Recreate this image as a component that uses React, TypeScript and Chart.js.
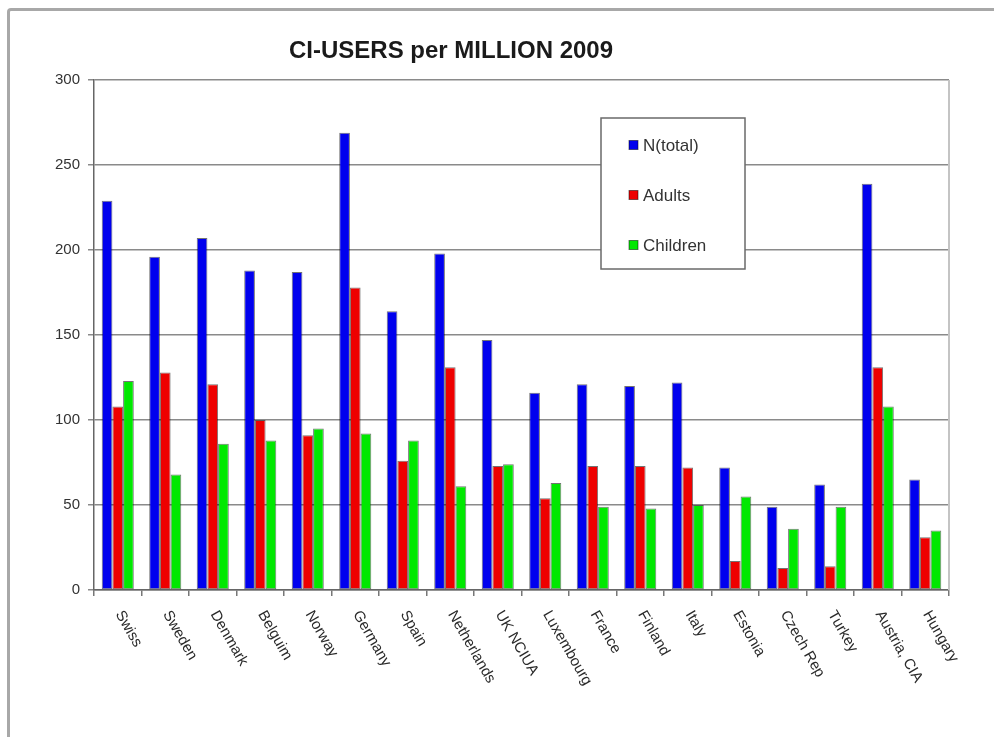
import React, { useEffect, useRef } from "react";
import { Chart, registerables } from "chart.js";

Chart.register(...registerables);

const categories = [
  "Swiss", "Sweden", "Denmark", "Belguim", "Norway", "Germany", "Spain",
  "Netherlands", "UK NCIUA", "Luxembourg", "France", "Finland", "Italy",
  "Estonia", "Czech Rep", "Turkey", "Austria, CIA", "Hungary",
];
const totalValues = [229, 196, 207, 188, 187, 269, 164, 198, 147, 116, 121, 120, 122, 72, 49, 62, 239, 65];
const adultValues = [108, 128, 121, 100, 91, 178, 76, 131, 73, 54, 73, 73, 72, 17, 13, 14, 131, 31];
const childValues = [123, 68, 86, 88, 95, 92, 88, 61, 74, 63, 49, 48, 50, 55, 36, 49, 108, 35];
const seriesNames = ["N(total)", "Adults", "Children"];
const seriesColors = ["#0000ee", "#ee0000", "#00e800"];
const titleText = "CI-USERS per MILLION 2009";
const yMin = 0;
const yMax = 300;
const yStep = 50;

const FONT = "'Liberation Sans', Arial, sans-serif";

const decorPlugin = {
  id: "decor",
  beforeDatasetsDraw(chart: any) {
    const { ctx, chartArea } = chart;
    ctx.save();
    ctx.strokeStyle = "#c4c4c4";
    ctx.lineWidth = 2;
    ctx.beginPath();
    ctx.moveTo(chartArea.right, chartArea.top);
    ctx.lineTo(chartArea.right, chartArea.bottom);
    ctx.stroke();
    ctx.restore();
  },
  afterDraw(chart: any) {
    const { ctx, scales } = chart;
    const xs = scales.x;
    ctx.save();
    // title
    ctx.fillStyle = "#1a1a1a";
    ctx.font = `bold 24px ${FONT}`;
    ctx.textAlign = "center";
    ctx.textBaseline = "middle";
    ctx.fillText(titleText, 451, 51);

    // rotated category labels
    ctx.font = `15px ${FONT}`;
    ctx.fillStyle = "#2a2a2a";
    ctx.textAlign = "left";
    ctx.textBaseline = "middle";
    categories.forEach((c, i) => {
      const x = xs.getPixelForValue(i);
      ctx.save();
      ctx.translate(x + 1, 612);
      ctx.rotate((60 * Math.PI) / 180);
      ctx.fillText(c, 0, 0);
      ctx.restore();
    });

    // legend box
    const bx = 601, by = 118, bw = 144, bh = 151;
    ctx.fillStyle = "#ffffff";
    ctx.fillRect(bx, by, bw, bh);
    ctx.strokeStyle = "#6a6a6a";
    ctx.lineWidth = 1.5;
    ctx.strokeRect(bx, by, bw, bh);
    ctx.font = `17px ${FONT}`;
    ctx.textAlign = "left";
    ctx.textBaseline = "middle";
    seriesNames.forEach((n, i) => {
      const cy = 145 + i * 50;
      ctx.fillStyle = seriesColors[i];
      ctx.fillRect(629, cy - 4.5, 9, 9);
      ctx.strokeStyle = "rgba(0,0,0,0.5)";
      ctx.lineWidth = 1;
      ctx.strokeRect(629, cy - 4.5, 9, 9);
      ctx.fillStyle = "#333333";
      ctx.fillText(n, 643, cy + 1);
    });
    ctx.restore();
  },
};

export default function App() {
  const ref = useRef<HTMLCanvasElement | null>(null);

  useEffect(() => {
    if (!ref.current) return;
    const data = [totalValues, adultValues, childValues];
    const chart = new Chart(ref.current, {
      type: "bar",
      data: {
        labels: categories,
        datasets: seriesNames.map((name, i) => ({
          label: name,
          data: data[i],
          backgroundColor: seriesColors[i],
          borderColor: "rgba(0,0,0,0.55)",
          borderWidth: 1,
          borderSkipped: false,
          categoryPercentage: 0.675,
          barPercentage: 1,
        })),
      },
      options: {
        responsive: false,
        animation: false,
        layout: { padding: { left: 0, top: 80, right: 45, bottom: 0 } },
        plugins: {
          legend: { display: false },
          title: { display: false },
          tooltip: { enabled: false },
        },
        scales: {
          x: {
            offset: true,
            ticks: { display: false },
            grid: {
              offset: true,
              drawOnChartArea: false,
              drawTicks: true,
              tickLength: 6,
              color: "#777777",
              lineWidth: 1.5,
            },
            border: { display: true, color: "#666666", width: 1.5 },
            afterFit: (s: any) => {
              s.height = 147;
            },
          },
          y: {
            min: yMin,
            max: yMax,
            ticks: {
              stepSize: yStep,
              color: "#333333",
              font: { family: FONT, size: 15 },
              padding: 8,
            },
            grid: {
              color: "#8a8a8a",
              lineWidth: 1.5,
              tickLength: 6,
              drawTicks: true,
            },
            border: { display: true, color: "#666666", width: 1.5 },
            afterFit: (s: any) => {
              s.width = 94;
            },
          },
        },
      },
      plugins: [decorPlugin],
    });
    return () => chart.destroy();
  }, []);

  return (
    <div style={{ position: "fixed", left: 0, top: 0, width: 994, height: 737, background: "#ffffff", overflow: "hidden" }}>
      <div
        style={{
          position: "absolute",
          left: 7,
          top: 8,
          width: 1100,
          height: 900,
          borderLeft: "3px solid #a8a8a8",
          borderTop: "3px solid #a8a8a8",
          borderTopLeftRadius: 4,
        }}
      />
      <canvas ref={ref} width={994} height={737} style={{ position: "absolute", left: 0, top: 0 }} />
    </div>
  );
}
